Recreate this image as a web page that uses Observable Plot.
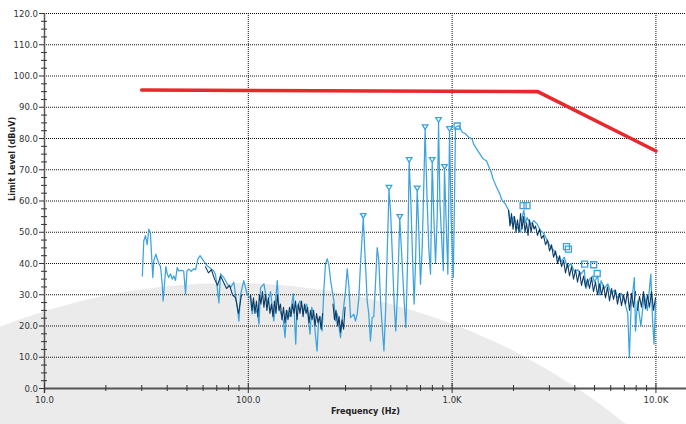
<!DOCTYPE html>
<html><head><meta charset="utf-8">
<script src="https://cdn.jsdelivr.net/npm/d3@7"></script>
<script src="https://cdn.jsdelivr.net/npm/@observablehq/plot@0.6"></script>
<style>
body{margin:0;background:#fff;}
#wrap{position:relative;width:686px;height:424px;overflow:hidden;background:#fff;}
#bg{position:absolute;left:0;top:0;}
#chart{position:absolute;left:0;top:0;}
</style></head><body>
<div id="wrap"><svg id="bg" width="686" height="424"><circle cx="230" cy="909" r="626" fill="#ebebeb"/></svg><div id="chart"></div></div>
<script>
// ---- data ----
const yMajor = [10,20,30,40,50,60,70,80,90,100,110,120];
const yAxisTicks = [0,10,20,30,40,50,60,70,80,90,100,110,120];
const yMinor = [2.5,5,7.5,12.5,15,17.5,22.5,25,27.5,32.5,35,37.5,42.5,45,47.5,52.5,55,57.5,62.5,65,67.5,72.5,75,77.5,82.5,85,87.5,92.5,95,97.5,102.5,105,107.5,112.5,115,117.5];
const xMajor = [10,100,1000,10000];
const xTickLabels = ["10.0","100.0","1.0K","10.0K"];
const xMinor = [20,30,40,50,60,70,80,90,200,300,400,500,600,700,800,900,2000,3000,4000,5000,6000,7000,8000,9000];

const lightFreq = [30.2,30.7,31.3,31.9,32.5,33.1,33.5,34.0,34.4,35.2,35.7,36.4,37.1,37.8,38.2,38.8,39.4,40.0,40.7,41.5,42.3,43.1,43.9,44.8,45.6,47.0,48.2,49.2,50.0,51.0,52.5,54.0,55.1,56.6,58.0,59.4,61.6,62.8,65.3,67.7,69.0,70.4,71.7,73.1,75.8,78.8,81.8,84.9,88.3,89.9,91.6,95.0,98.8,
102.5,104.5,106.5,110.9,112.9,114.9,119.3,124.0,128.6,133.4,138.7,140.9,143.2,148.7,151.4,154.4,160.2,166.3,170.9,173.4,179.4,186.2,193.5,200.8,204.7,208.5,217.4,221.3,225.7,230.3,234.6,239.3,244.1,248.6,253.4,263.0,267.9,273.2,283.4,288.8,299.8,305.6,311.3,317.4,329.3,335.6,342.2,348.6,355.3,
366.4,371.6,378,383,390,397.5,405.2,412.6,420.7,428.9,436.9,445.4,454,462.9,471.7,481,490,499.6,509.4,518.8,528.9,539.2,553.6,564.5,581.4,592.7,604.4,615.4,627.3,639.5,651.1,661.2,674.1,686.6,699.5,713.1,726,737.1,754.1,768.2,783.4,798.6,813.5,829,845,857.9,870.6,893,905.7,917.4,938.4,952.8,971.3,988.4,1013,1027,
1039,1079,1122,1163,1205,1252,1274,1319,1368,1419,1475,1529,1560,1589,1653,1715,1749,1827,1897,1935,2009,2087,2168,2210,2247,2291,2335,2426,2519,2618,2719,2822,2935,3048,3166,3290,3417,3546,3685,3828,3973,4130,4288,4451,4539,4717,4903,4989,5183,5278,5381,5585,5803,6028,6253,6496,6748,7003,7274,7408,7553,7837,7938,8123,8436,8759,9086,9438,9623,9788,9975];
const lightLevel = [36,47.3,48.9,46,51,49.5,43,35.5,41,43,41.5,40,39,33.5,28,33.5,39,36.7,35.5,36.7,35,36,34.6,38.7,37.6,37.8,37.6,30.3,37.6,38.2,37.5,38.3,38,41.5,42.5,41.5,40,39.3,38.5,37.6,36.5,32.3,27.4,36.7,35.5,33.5,32.3,34,25.9,21.6,30,34.5,30,
29,23.9,27,23.9,20.6,32.3,33.5,27,31,21.6,34.5,27,24.8,21.6,16.3,25,23,30.3,14.2,26,28,24.8,27,17.4,26,24,12,22,23,18.4,31.2,39.9,41.5,39.5,34.5,28,21.6,24,16.3,22,31.2,38.3,33,22.7,23.8,21.6,23.9,29,40,
54.5,46,36,28,24,15.2,22.7,23,33.5,45.1,41,28,19.5,12,25,45,63.5,56,42,28,18.4,30,54.2,44,28,19.5,40,72.4,60,42,27,40,63.3,50,33.4,45,65,82.9,60,45,36.6,72.4,55,40,55,85.2,60,45,37.7,70.2,50,36.6,82.3,55,35.5,60,
83.6,84.1,82,81.5,80.4,79.9,78.3,76.7,75.1,73.5,72.8,70.3,69,67,64.4,62.2,60.5,59,56.9,52.6,55,51.5,49.9,55,57,53,54.7,52.5,53.7,52.5,50.5,49.5,47.3,45.1,44.1,41.9,40.5,42,38.7,40,37.5,38,36.6,38,32,35,36,34,36,30,34.5,32,33.5,30.2,31.5,29,30.5,28,24,9.9,26,35.5,18.4,28,20,30,25,36.6,22,14.2,28];

const darkFreq = [61.6,63.7,65.9,68.3,70.6,73.1,75.6,78.2,80.9,83.7,86.6,89.5,92.6,
102.5,104.2,106.0,107.8,109.6,111.5,113.4,115.3,117.3,119.3,121.4,123.4,125.5,127.7,129.9,132.1,134.4,136.7,139.0,141.4,143.8,146.3,148.8,151.3,153.9,156.6,159.3,162.0,164.8,167.6,170.5,173.4,176.4,179.4,182.5,185.6,188.7,192.0,195.3,198.6,202.0,205.5,209.0,212.6,216.2,219.9,223.7,227.6,231.5,
260.3,264.8,269.3,274.0,278.7,283.5,288.4,293.4,298.4,
1891,1923,1956,1990,2023,2058,2093,2129,2166,2203,2241,2279,2318,2358,2398,2440,2481,2524,2565,2624,2684,2746,2808,2873,2939,3006,3075,3145,3217,3291,3367,3444,3521,3600,3683,3768,3854,3942,4031,4124,4218,4315,4413,4513,4617,4723,4831,4939,5052,5168,5287,5408,5531,5657,5787,5920,6056,6193,6334,6479,6628,6779,6932,7090,7252,7418,7588,7760,7938,8120,8306,8496,8689,8888,9091,9298,9512,9729,9951];
const darkLevel = [39,37,38,35,33,36,34,32,33,30,29,24,30,
30,25,29,24,28,23,30,27,31,26,30,25,29,24,27,23,28,24,30,25,27,22,26,21,25,22,26,23,27,24,28,22,27,24,28,23,27,24,26,21,25,22,25,20,24,21,23,19,24,
27,22,25,20,23,18,22,19,26,
57,52,56,51,55,50,54,50,56,51,55,50,53,49,54,50,53,51,52,49,51,48,49,46,47.5,44,46,42,44,40,42.5,39,41,37,40,36,39,35,38,34,37.5,33,36,32.5,35,32,35.5,31,34,30,33.5,30,33,29,32.5,28,32,28.5,31.5,27,30.5,26.5,30,27,31,25,30.5,26,31,25,29.5,26,31,25.5,30,26,31,25,29];
const darkSegment = [
"a","a","a","a","a","a","a","a","a","a","a","a","a",
"b","b","b","b","b","b","b","b","b","b","b","b","b","b","b","b","b","b","b","b","b","b","b","b","b","b","b","b","b","b","b","b","b","b","b","b","b","b","b","b","b","b","b","b","b","b","b","b","b",
"c","c","c","c","c","c","c","c","c",
"d","d","d","d","d","d","d","d","d","d","d","d","d","d","d","d","d","d","d","d","d","d","d","d","d","d","d","d","d","d","d","d","d","d","d","d","d","d","d","d","d","d","d","d","d","d","d","d","d","d","d","d","d","d","d","d","d","d","d","d","d","d","d","d","d","d","d","d","d"];

const limitFreq = [30, 2630, 10000];
const limitLevel = [95.5, 95.0, 76.0];

const peakFreq = [366.4,490,553.6,615.4,674.1,737.1,798.6,857.9,917.4,971.3];
const peakLevel = [54.5,63.5,54.2,72.4,63.3,82.9,72.4,85.2,70.2,82.3];
const quasiFreq = [1059,2230,2330,3640,3720,4470,4950,5150];
const quasiLevel = [84,58.5,58.5,45.4,44.6,39.8,39.6,36.8];

// ---- tables ----
const light = lightFreq.map((f,i)=>({f, v: lightLevel[i]}));
const dark = darkFreq.map((f,i)=>({f, v: darkLevel[i], s: darkSegment[i]}));
const limit = limitFreq.map((f,i)=>({f, v: limitLevel[i]}));
const peaks = peakFreq.map((f,i)=>({f, v: peakLevel[i]}));
const quasi = quasiFreq.map((f,i)=>({f, v: quasiLevel[i]}));

const triDown = {draw(ctx){ ctx.moveTo(-2.8,-4.6); ctx.lineTo(2.8,-4.6); ctx.lineTo(0,0); ctx.closePath(); }};
const FONT = '"DejaVu Sans Condensed", "Liberation Sans", sans-serif';
const gridStyle = {stroke:"#111", strokeOpacity:1, strokeDasharray:"1,1"};
const LIGHT = "#3ca3dd", DARK = "#0c3a63";

const chart = Plot.plot({
  width: 686, height: 424,
  marginLeft: 44, marginRight: 0, marginTop: 13, marginBottom: 36,
  style: {background:"transparent", fontFamily: FONT, fontSize:"9.5px", color:"#333", overflow:"visible"},
  x: {type:"log", domain:[10, 14125], axis:null, label:null},
  y: {domain:[0,120], axis:null, label:null},
  marks: [
    Plot.gridY(yMajor, gridStyle),
    Plot.gridX(xMajor.slice(1), gridStyle),
    Plot.ruleY([0], {stroke:"#555", strokeWidth:2}),
    Plot.ruleX([10], {stroke:"#555", strokeWidth:1.5, insetBottom:-5}),
    Plot.axisY(yAxisTicks, {tickSize:5, tickPadding:1.5, tickFormat:d=>d.toFixed(1), label:null, stroke:"#333"}),
    Plot.axisY(yMinor, {tickSize:6, dx:3, tickFormat:()=>"", label:null, stroke:"#333"}),
    Plot.axisX(xMajor, {tickSize:10, dy:-5, tickFormat:()=>"", label:null, stroke:"#333"}),
    Plot.axisX(xMinor, {tickSize:6, dy:-3, tickFormat:()=>"", label:null, stroke:"#333"}),
    Plot.axisX(xMajor, {tickSize:0, tickPadding:8, tickFormat:(d)=>xTickLabels[xMajor.indexOf(d)], label:null}),
    Plot.text(["Frequency (Hz)"], {frameAnchor:"bottom", dy:25, fontWeight:"bold", fontSize:9, fill:"#222"}),
    Plot.text(["Limit Level (dBuV)"], {frameAnchor:"left", dx:-32, rotate:-90, fontWeight:"bold", fontSize:9, fill:"#222"}),
    Plot.line(light, {x:"f", y:"v", stroke:LIGHT, strokeWidth:1.25}),
    Plot.line(dark, {x:"f", y:"v", z:"s", stroke:DARK, strokeWidth:1.1}),
    Plot.line(limit, {x:"f", y:"v", stroke:"#e8282b", strokeWidth:3.6}),
    Plot.dot(peaks, {x:"f", y:"v", symbol:triDown, stroke:LIGHT, fill:"none", strokeWidth:1.3}),
    Plot.dot(quasi, {x:"f", y:"v", symbol:"square", r:3.4, stroke:LIGHT, fill:"none", strokeWidth:1.3})
  ]
});
document.getElementById("chart").appendChild(chart);
</script>
</body></html>
